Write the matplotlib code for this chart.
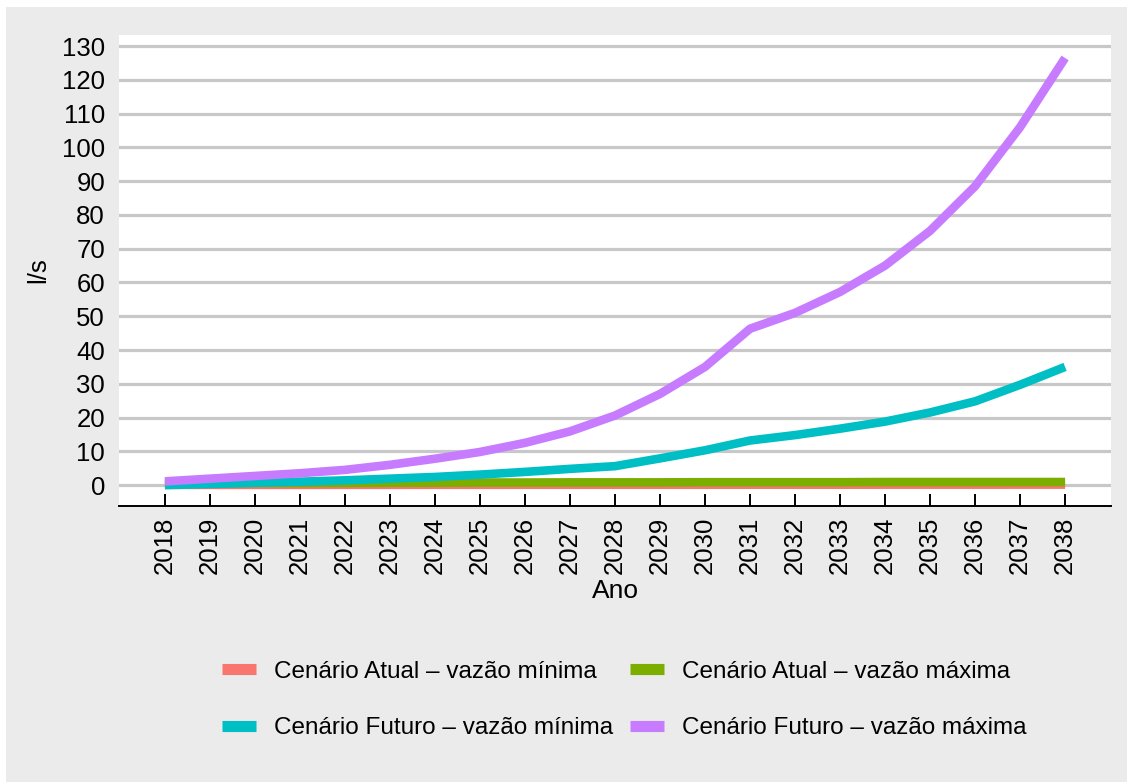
import matplotlib
matplotlib.use("Agg")
import matplotlib.pyplot as plt
from matplotlib.lines import Line2D
from matplotlib.patches import Rectangle

plt.rcParams['font.family'] = ['Liberation Sans', 'DejaVu Sans']

anos = list(range(2018, 2039))

atual_min = [0.05, 0.05, 0.06, 0.06, 0.07, 0.07, 0.08, 0.08, 0.09, 0.09, 0.1,
             0.1, 0.1, 0.11, 0.11, 0.11, 0.12, 0.12, 0.12, 0.13, 0.13]
atual_max = [0.5, 0.55, 0.6, 0.6, 0.65, 0.7, 0.7, 0.75, 0.75, 0.8, 0.8,
             0.8, 0.85, 0.85, 0.85, 0.85, 0.9, 0.9, 0.9, 0.9, 0.9]
futuro_min = [0.0, 0.3, 0.7, 1.0, 1.4, 1.9, 2.4, 3.1, 3.9, 4.8, 5.6,
              7.9, 10.3, 13.2, 14.8, 16.7, 18.8, 21.5, 24.8, 29.7, 35.0]
futuro_max = [1.1, 1.9, 2.7, 3.5, 4.5, 6.0, 7.8, 9.8, 12.5, 15.9, 20.6,
              27.0, 35.0, 46.3, 51.0, 57.2, 65.0, 75.3, 88.5, 106.0, 126.5]

series = [
    ("Cenário Atual – vazão mínima", atual_min, "#F8766D"),
    ("Cenário Atual – vazão máxima", atual_max, "#7CAE00"),
    ("Cenário Futuro – vazão mínima", futuro_min, "#00BFC4"),
    ("Cenário Futuro – vazão máxima", futuro_max, "#C77CFF"),
]

fig = plt.figure(figsize=(11.27, 7.82), dpi=100, facecolor="white")
fig.patches.append(Rectangle((6 / 1127, 0), 1, (782 - 7) / 782,
                             transform=fig.transFigure, facecolor="#EBEBEB",
                             edgecolor="none", zorder=-10))

ax = fig.add_axes([119 / 1127, 1 - 506 / 782, 992 / 1127, 471 / 782])
ax.set_facecolor("white")

for nome, vals, cor in series:
    ax.plot(anos, vals, color=cor, lw=6.2, solid_capstyle="butt",
            solid_joinstyle="round", zorder=3)

ax.set_xlim(2016.98, 2039.02)
ax.set_ylim(-6.2, 133.3)
ax.set_yticks(range(0, 131, 10))
ax.set_xticks(anos)
ax.set_xticklabels([str(a) for a in anos], rotation=90)

ax.yaxis.grid(True, color="#C8C8C8", lw=2.3, zorder=1)
ax.set_axisbelow(True)

for s in ["top", "right", "left"]:
    ax.spines[s].set_visible(False)
ax.spines["bottom"].set_linewidth(1.4)
ax.spines["bottom"].set_color("black")

ax.tick_params(axis="x", direction="in", length=8.6, width=1.4, pad=8,
               labelsize=18.5, colors="black")
ax.tick_params(axis="y", length=0, pad=10, labelsize=18.5, colors="black")

ax.set_xlabel("Ano", fontsize=19, labelpad=3)
ax.set_ylabel("l/s", fontsize=18.5)
ax.yaxis.set_label_coords(-0.0696, 0.5)

# legenda preenchida por linhas (ordem do original)
ordem = [0, 2, 1, 3]
handles = [Line2D([], [], color=series[i][2], lw=8, solid_capstyle="butt") for i in ordem]
labels = [series[i][0] for i in ordem]
fig.legend(handles, labels, ncol=2, frameon=False, fontsize=17.5,
           loc="center", bbox_to_anchor=(624 / 1127, 1 - 700 / 782),
           handlelength=1.4, handletextpad=0.74, columnspacing=0.7,
           labelspacing=1.4)

fig.savefig("out.png", dpi=100, facecolor=fig.get_facecolor())
